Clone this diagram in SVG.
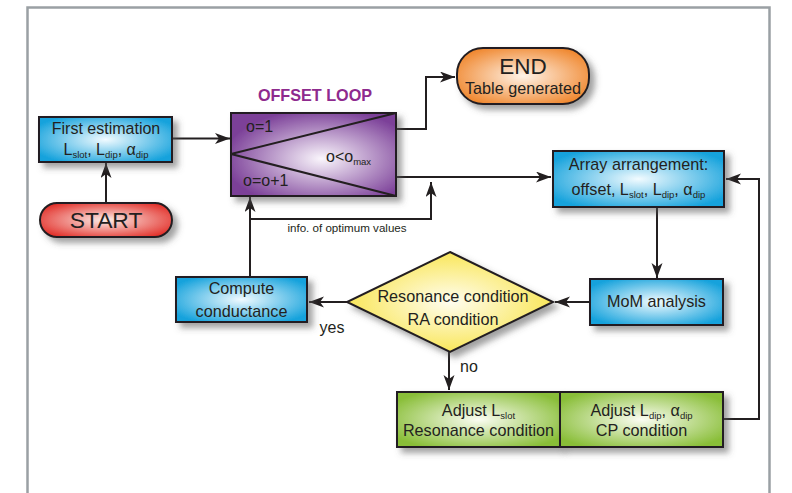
<svg xmlns="http://www.w3.org/2000/svg" width="792" height="493" viewBox="0 0 792 493">
<defs>
<style>
.t{font-family:"Liberation Sans",Arial,sans-serif;fill:#231f20;text-anchor:middle}
.box{stroke:#231f20;stroke-width:2}
.con{fill:none;stroke:#231f20;stroke-width:2}
</style>
<marker id="ah" markerUnits="userSpaceOnUse" markerWidth="16" markerHeight="12" refX="15" refY="5.5" orient="auto">
<path d="M0,0 L15,5.5 L0,11 L4,5.5 z" fill="#231f20"/>
</marker>
<filter id="sh" x="-20%" y="-30%" width="150%" height="170%">
<feGaussianBlur in="SourceAlpha" stdDeviation="3"/>
<feOffset dx="5" dy="5" result="b"/>
<feFlood flood-color="#555" flood-opacity="0.55"/>
<feComposite in2="b" operator="in"/>
<feMerge><feMergeNode/><feMergeNode in="SourceGraphic"/></feMerge>
</filter>
<radialGradient id="gBlue" cx="50%" cy="50%" r="60%"><stop offset="0" stop-color="#f2fbff"/><stop offset="1" stop-color="#15a2dc"/></radialGradient>
<radialGradient id="gPurple" cx="55%" cy="55%" r="60%"><stop offset="0" stop-color="#faf6fc"/><stop offset="1" stop-color="#7b3f98"/></radialGradient>
<radialGradient id="gRed" cx="50%" cy="50%" r="60%"><stop offset="0" stop-color="#fdeee9"/><stop offset="1" stop-color="#e2302a"/></radialGradient>
<radialGradient id="gOrange" cx="50%" cy="50%" r="60%"><stop offset="0" stop-color="#fff3e8"/><stop offset="1" stop-color="#ef8429"/></radialGradient>
<radialGradient id="gYellow" cx="50%" cy="50%" r="60%"><stop offset="0" stop-color="#fffdf0"/><stop offset="1" stop-color="#f8e23c"/></radialGradient>
<radialGradient id="gGreen" cx="50%" cy="50%" r="60%"><stop offset="0" stop-color="#fbfdf3"/><stop offset="1" stop-color="#89be38"/></radialGradient>
</defs>
<rect width="792" height="493" fill="#fff"/>
<rect x="27.5" y="7.5" width="742" height="520" fill="none" stroke="#9aa0a4" stroke-width="2.5"/>

<g id="connectors">
<path class="con" d="M106,203 V163" marker-end="url(#ah)"/>
<path class="con" d="M172,138.5 H230" marker-end="url(#ah)"/>
<path class="con" d="M396,129 H426 V77 H455" marker-end="url(#ah)"/>
<path class="con" d="M396,177 H551" marker-end="url(#ah)"/>
<path class="con" d="M250,277 V197" marker-end="url(#ah)"/>
<path class="con" d="M250,219 H431 V182" marker-end="url(#ah)"/>
<path class="con" d="M657,207 V278" marker-end="url(#ah)"/>
<path class="con" d="M590,302 H555" marker-end="url(#ah)"/>
<path class="con" d="M347,302 H309" marker-end="url(#ah)"/>
<path class="con" d="M449,352 V390" marker-end="url(#ah)"/>
<path class="con" d="M723,419 H759 V179 H726" marker-end="url(#ah)"/>
<text class="t" x="347" y="231.5" font-size="11.6">info. of optimum values</text>
<text class="t" x="332" y="333" font-size="16">yes</text>
<text class="t" x="469" y="372" font-size="16">no</text>
</g>

<g id="start">
<rect class="box" x="40" y="203" width="132" height="34" rx="17" fill="url(#gRed)" filter="url(#sh)"/>
<text class="t" x="106" y="228" font-size="22.8">START</text>
</g>

<g id="first-estimation">
<rect class="box" x="39" y="117" width="133" height="45" fill="url(#gBlue)" filter="url(#sh)"/>
<text class="t" x="106" y="134" font-size="16">First estimation</text>
<text class="t" x="106" y="155" font-size="16">L<tspan font-size="9.5" dy="3">slot</tspan><tspan dy="-3">, L</tspan><tspan font-size="9.5" dy="3">dip</tspan><tspan dy="-3">, α</tspan><tspan font-size="9.5" dy="3">dip</tspan></text>
</g>

<g id="offset-loop">
<text x="315" y="101" font-family="Liberation Sans,Arial,sans-serif" font-weight="bold" font-size="16.2" fill="#8e2a8e" text-anchor="middle">OFFSET LOOP</text>
<rect class="box" x="231" y="113" width="165" height="83" fill="url(#gPurple)" filter="url(#sh)"/>
<path d="M396,113 L231,154 L396,196" fill="none" stroke="#231f20" stroke-width="2"/>
<text x="246" y="132" font-family="Liberation Sans,Arial,sans-serif" font-size="16" fill="#231f20">o=1</text>
<text x="326" y="162" font-family="Liberation Sans,Arial,sans-serif" font-size="16" fill="#231f20">o&lt;o<tspan font-size="9.5" dy="3">max</tspan></text>
<text x="243" y="186" font-family="Liberation Sans,Arial,sans-serif" font-size="16" fill="#231f20">o=o+1</text>
</g>

<g id="end">
<rect class="box" x="457" y="48" width="132" height="56" rx="26" fill="url(#gOrange)" filter="url(#sh)"/>
<text class="t" x="523" y="74" font-size="22.5">END</text>
<text class="t" x="523" y="94" font-size="16.2">Table generated</text>
</g>

<g id="array-arrangement">
<rect class="box" x="553" y="151" width="171" height="56" fill="url(#gBlue)" filter="url(#sh)"/>
<text class="t" x="638.5" y="170" font-size="16.2">Array arrangement:</text>
<text class="t" x="638.5" y="195" font-size="16.2">offset, L<tspan font-size="9.5" dy="3">slot</tspan><tspan dy="-3">, L</tspan><tspan font-size="9.5" dy="3">dip</tspan><tspan dy="-3">, α</tspan><tspan font-size="9.5" dy="3">dip</tspan></text>
</g>

<g id="mom-analysis">
<rect class="box" x="590" y="279" width="133" height="46" fill="url(#gBlue)" filter="url(#sh)"/>
<text class="t" x="656.5" y="307" font-size="16.2">MoM analysis</text>
</g>

<g id="condition">
<path class="box" d="M450,252 L553,302 L450,352 L347,302 z" fill="url(#gYellow)" filter="url(#sh)"/>
<text class="t" x="453" y="302" font-size="16.2">Resonance condition</text>
<text class="t" x="453" y="325" font-size="16.2">RA condition</text>
</g>

<g id="compute-conductance">
<rect class="box" x="176" y="277" width="131" height="45" fill="url(#gBlue)" filter="url(#sh)"/>
<text class="t" x="241.5" y="294" font-size="16.2">Compute</text>
<text class="t" x="241.5" y="317" font-size="16.2">conductance</text>
</g>

<g id="adjust-lslot">
<rect class="box" x="397" y="392" width="163" height="55" fill="url(#gGreen)" filter="url(#sh)"/>
<text class="t" x="478.5" y="416" font-size="16.2">Adjust L<tspan font-size="9.5" dy="3">slot</tspan></text>
<text class="t" x="478.5" y="436" font-size="16.2">Resonance condition</text>
</g>

<g id="adjust-ldip">
<rect class="box" x="560" y="392" width="163" height="55" fill="url(#gGreen)" filter="url(#sh)"/>
<text class="t" x="641.5" y="416" font-size="16.2">Adjust L<tspan font-size="9.5" dy="3">dip</tspan><tspan dy="-3">, α</tspan><tspan font-size="9.5" dy="3">dip</tspan></text>
<text class="t" x="641.5" y="436" font-size="16.2">CP condition</text>
</g>
</svg>
